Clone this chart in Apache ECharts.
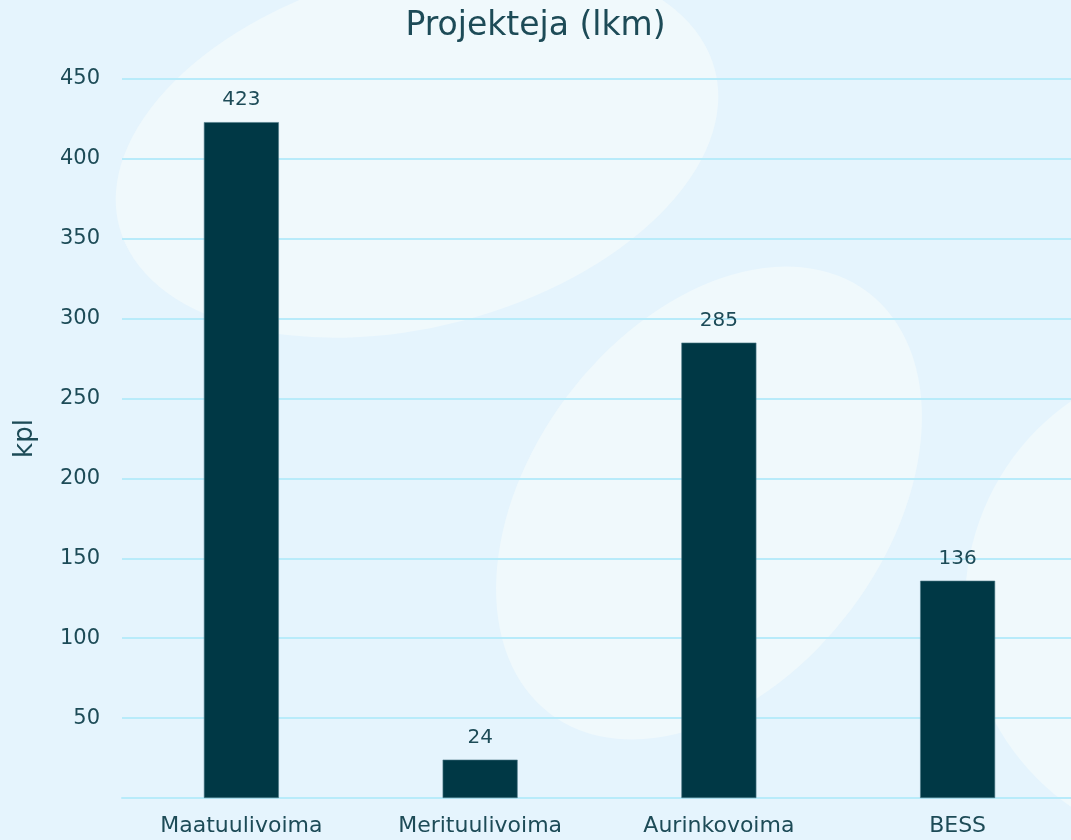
<!DOCTYPE html>
<html><head><meta charset="utf-8">
<script src="https://cdn.jsdelivr.net/npm/echarts@6/dist/echarts.min.js"></script>
<style>html,body{margin:0;padding:0;background:#e5f4fd;}#c{width:1071px;height:840px;}</style>
</head><body><div id="c"></div>
<script>
const categories = ['Maatuulivoima', 'Merituulivoima', 'Aurinkovoima', 'BESS'];
const values = [423, 24, 285, 136];
const yTicks = [0, 50, 100, 150, 200, 250, 300, 350, 400, 450];
const titleText = 'Projekteja (lkm)';
const yName = 'kpl';

const txt = '#1d4b57';
const font = '"DejaVu Sans", sans-serif';
const chart = echarts.init(document.getElementById('c'));
chart.setOption({
  backgroundColor: '#e5f4fd',
  animation: false,
  graphic: [
    {type:'circle', x:417, y:148, scaleX:1, scaleY:0.58, rotation:0.258, shape:{cx:0,cy:0,r:308}, style:{fill:'#f0f9fc'}, z:-10},
    {type:'circle', x:709, y:503, scaleX:1, scaleY:0.673, rotation:0.926, shape:{cx:0,cy:0,r:264}, style:{fill:'#f0f9fc'}, z:-10},
    {type:'circle', x:1212, y:604, shape:{cx:0,cy:0,r:247}, style:{fill:'#f0f9fc'}, z:-10}
  ],
  title: {text: titleText, left: 'center', top: 5, textStyle: {fontFamily: font, fontWeight: 'normal', fontSize: 33, color: txt}},
  grid: {left: 122, right: -6, top: 79, bottom: 42, containLabel: false, outerBoundsMode: 'none'},
  xAxis: {
    type: 'category', data: categories,
    axisLine: {show: true, lineStyle: {color: '#b8ebfa', width: 2}},
    axisTick: {show: false},
    axisLabel: {fontFamily: font, fontSize: 22, color: txt, margin: 17}
  },
  yAxis: {
    type: 'value', min: yTicks[0], max: yTicks[yTicks.length-1], interval: 50,
    name: yName, nameLocation: 'middle', nameGap: 84,
    nameTextStyle: {fontFamily: font, fontSize: 26, color: txt},
    axisLine: {show: false}, axisTick: {show: false},
    axisLabel: {fontFamily: font, fontSize: 21, color: txt, margin: 22, formatter: v => v === 0 ? '' : v},
    splitLine: {lineStyle: {color: '#b8ebfa', width: 2}}
  },
  series: [{
    type: 'bar', data: values, barWidth: 75,
    itemStyle: {color: '#003845', borderColor: '#4d7b88', borderWidth: 0.6},
    label: {show: true, position: 'top', distance: 12, fontFamily: font, fontSize: 20, color: txt}
  }]
});
</script></body></html>
